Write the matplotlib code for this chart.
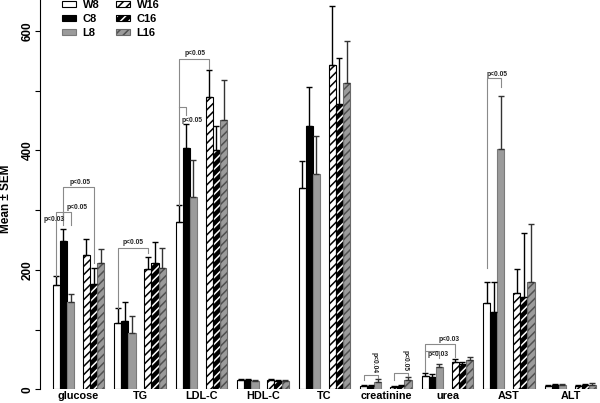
import matplotlib
matplotlib.use('Agg')
import matplotlib.pyplot as plt
import numpy as np
from matplotlib.patches import Patch
from matplotlib.legend_handler import HandlerTuple

# ---------------- data ----------------
categories = ['glucose', 'TG', 'LDL-C', 'HDL-C', 'TC', 'creatinine', 'urea', 'AST', 'ALT']
series = ['W8', 'C8', 'L8', 'W16', 'C16', 'L16']

W8 = [174, 111, 281, 15, 337, 5, 22, 144, 6]
C8 = [248, 115, 404, 15, 441, 6, 20, 129, 7]
L8 = [147, 95, 322, 14, 360, 12, 38, 403, 7]
W16 = [225, 201, 489, 15, 543, 4, 45, 161, 6]
C16 = [177, 211, 401, 14, 478, 6, 42, 155, 7]
L16 = [212, 203, 451, 14, 513, 15, 49, 179, 8]

W8_sem = [16, 25, 27, 3, 46, 2, 5, 35, 2]
C8_sem = [21, 32, 41, 2, 66, 1, 6, 50, 2]
L8_sem = [13, 27, 62, 2, 65, 5, 4, 89, 2]
W16_sem = [27, 21, 45, 2, 99, 1, 5, 40, 2]
C16_sem = [26, 36, 40, 2, 77, 1, 4, 106, 2]
L16_sem = [23, 33, 67, 2, 70, 5, 5, 98, 3]

yticks = [0, 100, 200, 300, 400, 500, 600]
ytick_labels = ['0', '', '200', '', '400', '', '600']

# significance brackets: group, left bar, right bar, left-bottom, top, right-bottom,
# label, label x offset (group units), label y, rotation, va
brackets = [
    (0, 1, 4, 275, 339, 212, 'p<0.05', 0.024, 341, 0, 'bottom'),
    (0, 0, 1, 190, 297, 283, 'p<0.03', -0.39, 285, 0, 'center'),
    (0, 1, 2, 283, 297, 275, 'p<0.05', -0.016, 304, 0, 'center'),
    (1, 0, 3, 136, 237, 228, 'p<0.05', -0.109, 240, 0, 'bottom'),
    (2, 0, 3, 308, 553, 537, 'p<0.05', -0.106, 556, 0, 'bottom'),
    (2, 0, 1, 473, 473, 460, 'p<0.05', -0.159, 450, 0, 'center'),
    (5, 0, 2, 15.6, 24, 19, 'p<0.04', -0.187, 45, 270, 'center'),
    (5, 3, 5, 15.6, 28, 21.5, 'p<0.05', 0.309, 47.5, 270, 'center'),
    (6, 0, 2, 29, 64, 52, 'p<0.03', -0.154, 58, 0, 'center'),
    (6, 0, 3, 64, 76, 54.6, 'p<0.03', 0.024, 78, 0, 'bottom'),
    (7, 0, 2, 203, 521, 507, 'p<0.05', -0.195, 522, 0, 'bottom'),
]

# ---------------- style ----------------
plt.rcParams['font.family'] = ['Liberation Sans', 'DejaVu Sans']
plt.rcParams['font.weight'] = 'bold'
plt.rcParams['hatch.linewidth'] = 1.1

offsets = [-0.358, -0.244, -0.130, 0.130, 0.244, 0.358]
width = 0.114
face = ['white', 'black', '#9b9b9b', 'white', 'black', '#9b9b9b']
hatch_col = [None, None, None, 'black', 'white', '#505050']
edge = ['black', 'black', '#7a7a7a', 'black', 'black', '#6a6a6a']
means = [W8, C8, L8, W16, C16, L16]
sems = [W8_sem, C8_sem, L8_sem, W16_sem, C16_sem, L16_sem]
ecol = ['black', 'black', '#333333', 'black', 'black', '#333333']

fig = plt.figure(figsize=(6, 4.03), dpi=100)
ax = fig.add_axes([40 / 600, (403 - 389.3) / 403, 1 - 40 / 600, 389.3 / 403])

x = np.arange(len(categories))
for k in range(6):
    xs = x + offsets[k]
    if hatch_col[k] is None:
        ax.bar(xs, means[k], width, color=face[k], edgecolor=edge[k], linewidth=0.8, zorder=2)
    else:
        ax.bar(xs, means[k], width, color=face[k], edgecolor=hatch_col[k], hatch='////',
               linewidth=0, zorder=2)
        ax.bar(xs, means[k], width, fill=False, edgecolor=edge[k], linewidth=0.8, zorder=2.1)
    ax.errorbar(xs, means[k], yerr=[np.zeros(len(categories)), sems[k]], fmt='none',
                ecolor=ecol[k], elinewidth=1.0, capsize=2.2, capthick=1.0, zorder=3)

# brackets
bc = '#8a8a8a'
for g, l, r, lb, top, rb, txt, tdx, ty, rot, va in brackets:
    xl = g + offsets[l]
    xr = g + offsets[r]
    ax.plot([xl, xl, xr, xr], [lb, top, top, rb], color=bc, lw=0.8, zorder=4)
    ax.text(g + tdx, ty, txt, fontsize=4.8, fontweight='bold', rotation=rot,
            ha='center', va=va, color='#222222', zorder=5)

ax.set_xlim(-0.626, 8.48)
ax.set_ylim(0, 652)
ax.set_xticks(x)
ax.set_xticklabels(categories, fontsize=7.8, fontweight='bold')
ax.tick_params(axis='x', length=0, pad=1.5)
ax.set_yticks(yticks)
ax.set_yticklabels(ytick_labels, fontsize=8.5, fontweight='bold', rotation=90, va='center')
ax.tick_params(axis='y', length=3.6, width=0.8, pad=0.8)
for s in ['top', 'right', 'bottom']:
    ax.spines[s].set_visible(False)
ax.spines['left'].set_linewidth(0.8)
fig.text(6 / 600, 1 - 199 / 403, 'Mean \u00b1 SEM', fontsize=8.5, fontweight='bold',
         rotation=90, ha='center', va='center')

# legend
handles = []
for k in range(6):
    if hatch_col[k] is None:
        handles.append(Patch(facecolor=face[k], edgecolor=edge[k], linewidth=0.8))
    else:
        handles.append((Patch(facecolor=face[k], edgecolor=hatch_col[k], hatch='////', linewidth=0),
                        Patch(facecolor='none', edgecolor=edge[k], linewidth=0.8)))
leg = ax.legend(handles, series, ncol=2, loc='upper left', frameon=False,
                bbox_to_anchor=(62 / 600, 1.0), bbox_transform=fig.transFigure,
                borderpad=0, borderaxespad=0, fontsize=8, handlelength=1.3,
                handleheight=0.55, handletextpad=0.55, columnspacing=1.5, labelspacing=0.35,
                handler_map={tuple: HandlerTuple(ndivide=1, pad=0)})
for t in leg.get_texts():
    t.set_fontweight('bold')

fig.savefig('out.png', dpi=100)
